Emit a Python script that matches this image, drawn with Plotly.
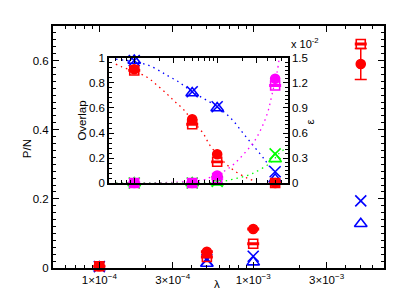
import plotly.graph_objects as go

# ---------------- data ----------------
lam = [1e-4, 5e-4, 1e-3, 5e-3]

# main panel: P/N
pn_circle = [0.005, 0.047, 0.113, 0.59]
pn_circle_err = [0.0, 0.002, 0.002, 0.045]
pn_square = [0.005, 0.032, 0.070, 0.648]
pn_square_err = [0.002, 0.002, 0.002, 0.002]
pn_x = [0.004, 0.024, 0.034, 0.194]
pn_tri = [0.003, 0.013, 0.017, 0.128]

# inset: overlap (left axis)
ov_circle = [0.91, 0.51, 0.23, 0.0]
ov_square = [0.90, 0.47, 0.17, 0.0]
ov_x = [0.98, 0.73, 0.61, 0.09]
ov_tri = [0.98, 0.72, 0.60, 0.03]

# inset: epsilon in units of 1e-2 (right axis)
eps_circle = [0.0, 0.0, 0.09, 1.25]
eps_square = [0.0, 0.0, 0.06, 1.17]
eps_x = [0.0, 0.0, 0.02, 0.35]
eps_tri = [0.0, 0.0, 0.01, 0.29]

# dotted guide curves
red_fit_x = [6e-5, 7e-5, 1.4e-4, 1.9e-4, 2.5e-4, 3.1e-4, 3.9e-4, 5e-4, 6.9e-4, 8e-4, 1e-3, 1.2e-3, 1.6e-3, 2.3e-3, 3e-3]
red_fit_y = [0.95, 0.93, 0.85, 0.78, 0.71, 0.65, 0.59, 0.50, 0.39, 0.31, 0.23, 0.17, 0.10, 0.04, 0.01]
blue_fit_x = [6e-5, 1e-4, 1.5e-4, 2.1e-4, 2.5e-4, 3.4e-4, 5e-4, 1e-3, 1.5e-3, 2.1e-3, 2.8e-3, 3.8e-3, 4.6e-3]
blue_fit_y = [0.99, 0.97, 0.94, 0.89, 0.86, 0.81, 0.73, 0.61, 0.51, 0.39, 0.29, 0.18, 0.10]
mag_fit_x = [6e-5, 3e-4, 7e-4, 8.3e-4, 1.2e-3, 1.6e-3, 2.1e-3, 2.8e-3, 3.5e-3, 4.1e-3, 4.6e-3, 5.3e-3, 5.6e-3]
mag_fit_y = [0.0, 0.01, 0.04, 0.07, 0.14, 0.23, 0.35, 0.50, 0.68, 0.86, 1.07, 1.34, 1.50]
green_fit_x = [6e-5, 5e-4, 1e-3, 1.6e-3, 2.6e-3, 4.6e-3, 5.5e-3, 7e-3]
green_fit_y = [0.0, 0.0, 0.01, 0.05, 0.11, 0.26, 0.35, 0.43]

x_tickvals = [1e-4, 3e-4, 1e-3, 3e-3]
x_ticktext = ["1×10<sup>−4</sup>", "3×10<sup>−4</sup>", "1×10<sup>−3</sup>", "3×10<sup>−3</sup>"]
x_minor = [6e-5, 7e-5, 8e-5, 9e-5, 2e-4, 4e-4, 5e-4, 6e-4, 7e-4, 8e-4, 9e-4,
           2e-3, 4e-3, 5e-3, 6e-3, 7e-3]

RED = "#ff0000"
BLUE = "#0000ff"
MAG = "#ff00ff"
GRN = "#00ff00"
FONT = "Liberation Sans, Arial, sans-serif"

fig = go.Figure()

# ---------- inset guide curves ----------
def dotted(x, y, color, yaxis):
    fig.add_trace(go.Scatter(x=x, y=y, mode="lines", xaxis="x2", yaxis=yaxis,
                             line=dict(color=color, width=1.3, dash="1.5px,4px", shape="spline"),
                             hoverinfo="skip"))

dotted(red_fit_x, red_fit_y, RED, "y2")
dotted(blue_fit_x, blue_fit_y, BLUE, "y2")
dotted(mag_fit_x, mag_fit_y, MAG, "y3")
dotted(green_fit_x, green_fit_y, GRN, "y3")

def pts(x, y, color, symbol, xa, ya, size=10, err=None):
    kw = {}
    if err is not None:
        kw["error_y"] = dict(type="data", array=err, visible=True, color=color,
                             thickness=1.5, width=6)
    fig.add_trace(go.Scatter(
        x=x, y=y, mode="markers", xaxis=xa, yaxis=ya, cliponaxis=False,
        marker=dict(symbol=symbol, size=size, color=color,
                    line=dict(color=color, width=1.6)),
        **kw))

# ---------- inset markers ----------
pts(lam, eps_x, GRN, "x-thin-open", "x2", "y3", 11)
pts(lam, eps_tri, GRN, "triangle-up-open", "x2", "y3", 11)
pts(lam, eps_square, MAG, "square-open", "x2", "y3", 9, err=[0.01] * 4)
pts(lam, eps_circle, MAG, "circle", "x2", "y3", 9)
pts(lam, ov_x, BLUE, "x-thin-open", "x2", "y2", 11)
pts(lam, ov_tri, BLUE, "triangle-up-open", "x2", "y2", 11)
pts(lam, ov_square, RED, "square-open", "x2", "y2", 9, err=[0.005] * 4)
pts(lam, ov_circle, RED, "circle", "x2", "y2", 9)

# ---------- main markers ----------
pts(lam, pn_x, BLUE, "x-thin-open", "x", "y", 11)
pts(lam, pn_tri, BLUE, "triangle-up-open", "x", "y", 11)
pts(lam, pn_square, RED, "square-open", "x", "y", 9, err=pn_square_err)
pts(lam, pn_circle, RED, "circle", "x", "y", 9, err=pn_circle_err)

axis_common = dict(showline=True, linecolor="black", linewidth=2, ticks="inside",
                   tickcolor="black", tickwidth=1.2, showgrid=False, zeroline=False)

# the page body adds an 8px offset, so the figure is 8px smaller on each axis
fig.update_layout(
    width=407, height=290,
    margin=dict(l=45, r=31, t=14, b=26),
    paper_bgcolor="white", plot_bgcolor="white",
    showlegend=False,
    font=dict(family=FONT, size=11.5, color="black"),
    xaxis=dict(type="log", range=[-4.301, -2.15], mirror="ticks",
               tickmode="array", tickvals=x_tickvals, ticktext=x_ticktext, ticklen=6,
               minor=dict(tickmode="array", tickvals=x_minor, ticks="inside", ticklen=3,
                          tickcolor="black", tickwidth=1),
               **axis_common),
    yaxis=dict(range=[0, 0.7], mirror="ticks", ticklen=6,
               tickvals=[0, 0.2, 0.4, 0.6], ticktext=["0", "0.2", "0.4", "0.6"],
               minor=dict(dtick=0.02, ticks="inside", ticklen=3, tickcolor="black", tickwidth=1),
               **axis_common),
    xaxis2=dict(type="log", range=[-4.301, -2.15], domain=[0.170, 0.709], anchor="y2",
                mirror="ticks", tickmode="array", tickvals=x_tickvals, ticklen=5,
                showticklabels=False,
                minor=dict(tickmode="array", tickvals=x_minor, ticks="inside", ticklen=3,
                           tickcolor="black", tickwidth=1),
                **axis_common),
    yaxis2=dict(range=[0, 1], domain=[0.351, 0.868], anchor="x2", ticklen=5,
                tickvals=[0, 0.2, 0.4, 0.6, 0.8, 1], ticktext=["0", "0.2", "0.4", "0.6", "0.8", "1"],
                minor=dict(dtick=0.04, ticks="inside", ticklen=3, tickcolor="black", tickwidth=1),
                **axis_common),
    yaxis3=dict(range=[0, 1.5], overlaying="y2", anchor="x2", side="right", ticklen=5,
                tickvals=[0, 0.3, 0.6, 0.9, 1.2, 1.5], ticktext=["0", "0.3", "0.6", "0.9", "1.2", "1.5"],
                minor=dict(dtick=0.05, ticks="inside", ticklen=3, tickcolor="black", tickwidth=1),
                **axis_common),
    annotations=[
        dict(text="P/N", xref="paper", yref="paper", x=-0.102, y=0.492, textangle=-90,
             showarrow=False, font=dict(size=11.5)),
        dict(text="λ", xref="paper", yref="paper", x=0.495, y=-0.099,
             showarrow=False, font=dict(size=11.5)),
        dict(text="Overlap", xref="paper", yref="paper", x=0.065, y=0.607, textangle=-90,
             showarrow=False, font=dict(size=11.5)),
        dict(text="ε", xref="paper", yref="paper", x=0.802, y=0.603, textangle=-90,
             showarrow=False, font=dict(size=11.5)),
        dict(text="x 10<sup>-2</sup>", xref="paper", yref="paper", x=0.712, y=0.93,
             xanchor="left", yanchor="middle", showarrow=False, font=dict(size=11)),
    ],
)

fig.write_html("out.html")
